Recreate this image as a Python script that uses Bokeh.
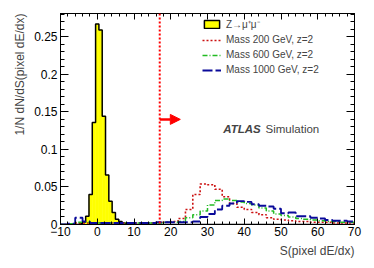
from bokeh.plotting import figure
from bokeh.models import (LinearAxis, Legend, LegendItem, Span, Arrow, NormalHead,
                          Label, Title, NumeralTickFormatter, SingleIntervalTicker,
                          CustomJSTickFormatter)
from bokeh.embed import file_html
from bokeh.resources import INLINE

# ---------------- data ----------------
# Z -> mu+ mu- (normalised), bin edges and contents
z_edges = [-4.95, -4.05, -3.15, -2.25, -1.35, -0.45, 0.45, 1.35, 2.25, 3.15,
           4.05, 4.95, 5.85, 6.75, 7.65, 8.55]
z_vals = [0.001, 0.003, 0.011, 0.040, 0.136, 0.267, 0.259, 0.144, 0.066, 0.031,
          0.016, 0.007, 0.004, 0.002, 0.001]

# signal samples: 2-unit bins from -10 to 70
sig_edges = list(range(-10, 71, 2))
m200 = [0.000, 0.001, 0.002, 0.002, 0.002, 0.002, 0.002, 0.002, 0.002, 0.002,
        0.002, 0.002, 0.002, 0.003, 0.003, 0.004, 0.008, 0.020, 0.040, 0.054,
        0.053, 0.047, 0.037, 0.028, 0.023, 0.020, 0.016, 0.013, 0.009, 0.007,
        0.006, 0.005, 0.004, 0.004, 0.003, 0.003, 0.003, 0.002, 0.002, 0.002]
m600 = [0.000, 0.001, 0.003, 0.003, 0.002, 0.002, 0.002, 0.002, 0.002, 0.002,
        0.002, 0.002, 0.002, 0.002, 0.003, 0.003, 0.004, 0.009, 0.013, 0.018,
        0.026, 0.032, 0.034, 0.032, 0.030, 0.028, 0.026, 0.022, 0.018, 0.014,
        0.012, 0.010, 0.008, 0.007, 0.006, 0.005, 0.004, 0.004, 0.003, 0.003]
m1000 = [0.000, 0.001, 0.009, 0.004, 0.002, 0.002, 0.002, 0.002, 0.002, 0.002,
         0.002, 0.002, 0.002, 0.003, 0.003, 0.003, 0.003, 0.003, 0.004, 0.010,
         0.014, 0.020, 0.025, 0.028, 0.031, 0.030, 0.027, 0.025, 0.024, 0.021,
         0.015, 0.016, 0.011, 0.011, 0.009, 0.008, 0.006, 0.005, 0.005, 0.004]

cut_value = 17
arrow_y = 0.14
arrow_len = 5.6

legend_labels = ["Z\u2192\u03bc\u207a\u03bc\u207b", "Mass 200 GeV, z=2",
                 "Mass 600 GeV, z=2", "Mass 1000 GeV, z=2"]
x_title = "S(pixel dE/dx)"
y_title = "1/N dN/dS(pixel dE/dx)"

X_MIN, X_MAX = -10, 70
Y_MIN, Y_MAX = 0, 0.281
FONT = "Liberation Sans"

# ---------------- figure ----------------
p = figure(width=372, height=266, x_range=(X_MIN, X_MAX), y_range=(Y_MIN, Y_MAX),
           output_backend="svg", toolbar_location=None,
           min_border_left=60, min_border_right=18, min_border_top=13, min_border_bottom=42)
p.grid.visible = False
p.outline_line_color = "black"
p.background_fill_color = "white"
p.border_fill_color = "white"


def style_axis(ax, major_in, minor_in, labels=True):
    ax.major_tick_in = major_in
    ax.major_tick_out = 0
    ax.minor_tick_in = minor_in
    ax.minor_tick_out = 0
    ax.axis_line_color = "black"
    ax.major_tick_line_color = "black"
    ax.minor_tick_line_color = "black"
    ax.major_label_text_font = FONT
    ax.major_label_text_font_size = "12px"
    ax.major_label_text_color = "black"
    if not labels:
        ax.formatter = CustomJSTickFormatter(code="return ''")
        ax.major_label_standoff = 0


p.xaxis.ticker = SingleIntervalTicker(interval=10, num_minor_ticks=5)
p.yaxis.ticker = SingleIntervalTicker(interval=0.05, num_minor_ticks=5)
p.yaxis.formatter = NumeralTickFormatter(format="0.[00]")
style_axis(p.xaxis[0], 6, 3)
style_axis(p.yaxis[0], 8, 4)
p.xaxis.major_label_standoff = 2
p.yaxis.major_label_standoff = 3

top_ax = LinearAxis(ticker=SingleIntervalTicker(interval=10, num_minor_ticks=5))
style_axis(top_ax, 6, 3, labels=False)
p.add_layout(top_ax, "above")
right_ax = LinearAxis(ticker=SingleIntervalTicker(interval=0.05, num_minor_ticks=5))
style_axis(right_ax, 8, 4, labels=False)
p.add_layout(right_ax, "right")

# ---------------- Z histogram ----------------
p.quad(left=z_edges[:-1], right=z_edges[1:], bottom=0, top=z_vals,
       fill_color="#ffff00", line_color="#ffff00", line_width=0.5)
zx = [X_MIN] + z_edges + [X_MAX]
zy = [0] + z_vals + [0, 0]
p.step(x=zx, y=zy, mode="after", line_color="black", line_width=1.5)

# hidden renderer used only for the legend swatch (yellow box, black border)
z_proxy = p.quad(left=z_edges[:-1], right=z_edges[1:], bottom=0, top=z_vals,
                 fill_color="#ffff00", line_color="black", line_width=1.5, visible=False)


def sig(vals, color, dash, width):
    return p.step(x=sig_edges, y=vals + [vals[-1]], mode="after", line_color=color,
                  line_dash=dash, line_width=width)


r200 = sig(m200, "#cc1111", "2 2", 1.6)
r600 = sig(m600, "#22bb22", "5 2 1 2", 1.5)
r1000 = sig(m1000, "#0a0a9a", "10 3", 1.8)

# ---------------- cut line and arrow ----------------
p.add_layout(Span(location=cut_value, dimension="height", line_color="#ff0000",
                  line_dash="2 2", line_width=2))
p.add_layout(Arrow(x_start=cut_value, y_start=arrow_y, x_end=cut_value + arrow_len, y_end=arrow_y,
                   line_color="#ff0000", line_width=2.5,
                   end=NormalHead(size=10, fill_color="#ff0000", line_color="#ff0000")))

# ---------------- legend ----------------
legend = Legend(items=[LegendItem(label=legend_labels[0], renderers=[z_proxy]),
                       LegendItem(label=legend_labels[1], renderers=[r200]),
                       LegendItem(label=legend_labels[2], renderers=[r600]),
                       LegendItem(label=legend_labels[3], renderers=[r1000])],
                location=(142, 148), padding=0, margin=0, spacing=2,
                label_standoff=5, glyph_width=19, glyph_height=10, label_height=13,
                label_text_font=FONT, label_text_font_size="10px",
                border_line_alpha=0, background_fill_alpha=0,
                inactive_fill_alpha=0)
p.add_layout(legend)

# ---------------- texts ----------------
p.add_layout(Label(x=34.3, y=0.127, text="ATLAS", text_font=FONT, text_font_size="11.5px",
                   text_font_style="bold italic", text_baseline="middle"))
p.add_layout(Label(x=45.8, y=0.127, text="Simulation", text_font=FONT, text_font_size="11.5px",
                   text_baseline="middle"))

p.add_layout(Title(text=x_title, align="right", text_font=FONT, text_font_size="12px",
                   text_font_style="normal", standoff=6), "below")
p.add_layout(Title(text=y_title, align="right", text_font=FONT, text_font_size="12px",
                   text_font_style="normal", standoff=10), "left")

open("out.html", "w").write(file_html(p, INLINE))
